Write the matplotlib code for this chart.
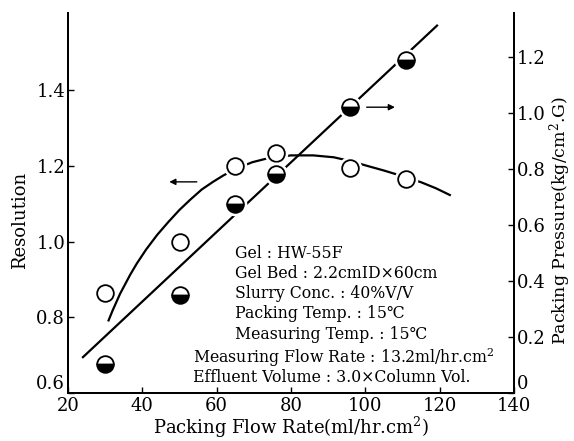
import matplotlib
matplotlib.use('Agg')
import matplotlib.pyplot as plt

plt.rcParams['font.family'] = ['DejaVu Serif']
plt.rcParams['mathtext.fontset'] = 'dejavuserif'

# resolution (open circles, left axis)
res_flow = [30, 50, 65, 76, 96, 111]
res_vals = [0.865, 1.00, 1.20, 1.235, 1.195, 1.165]

# resolution trend curve
res_curve_x = [30.8, 32, 34, 36.7, 38.5, 41, 44, 47, 50, 52.9, 56, 59, 61.8, 65, 69.6, 74, 80,
               86, 91.5, 96, 100.6, 105, 110, 115, 119, 123]
res_curve_y = [0.789, 0.818, 0.862, 0.912, 0.942, 0.979, 1.018, 1.052, 1.084, 1.111, 1.138, 1.158,
               1.175, 1.192, 1.21, 1.221, 1.228, 1.228, 1.223, 1.213, 1.20, 1.188, 1.173, 1.157,
               1.141, 1.122]

# packing pressure (half filled circles, right axis)
pres_flow = [30, 50, 65, 76, 96, 111]
pres_vals = [0.105, 0.35, 0.675, 0.78, 1.02, 1.19]

# pressure straight line, ends as drawn
pres_line_x = [23.8, 119.5]
pres_line_y = [0.125, 1.314]

conditions = [
    ('Gel : HW-55F', 0),
    ('Gel Bed : 2.2cmID\u00d760cm', 0),
    ('Slurry Conc. : 40%V/V', 0),
    ('Packing Temp. : 15\u2103', 0),
    ('Measuring Temp. : 15\u2103', 0),
    ('Measuring Flow Rate : 13.2ml/hr.cm$^2$', 1),
    ('Effluent Volume : 3.0\u00d7Column Vol.', 1),
]

fig = plt.figure(figsize=(5.74, 4.41), dpi=100)
ax = fig.add_axes([0.1185, 0.109, 0.777, 0.862])
ax2 = ax.twinx()

lw = 1.6
ax.plot(res_curve_x, res_curve_y, 'k-', lw=lw, zorder=2, solid_capstyle='butt')
ax2.plot(pres_line_x, pres_line_y, 'k-', lw=lw, zorder=2, solid_capstyle='butt')

# white halo so lines break around markers
ax.plot(res_flow, res_vals, 'o', ms=12, mfc='white', mec='white', mew=5, zorder=3)
ax.plot(res_flow, res_vals, 'o', ms=12, mfc='white', mec='k', mew=1.3, zorder=4)
ax2.plot(pres_flow, pres_vals, 'o', ms=12, mfc='white', mec='white', mew=5, zorder=3)
ax2.plot(pres_flow, pres_vals, 'o', ms=12, fillstyle='bottom', mfc='k',
         markerfacecoloralt='white', mec='k', mew=1.3, zorder=4)

ax.set_xlim(20, 140)
ax.set_ylim(0.6, 1.605)
ax2.set_ylim(0, 1.357)

ax.set_xticks([20, 40, 60, 80, 100, 120, 140])
ax.set_yticks([0.6, 0.8, 1.0, 1.2, 1.4])
ax.set_yticklabels(['0.6', '0.8', '1.0', '1.2', '1.4'])
ax2.set_yticks([0, 0.2, 0.4, 0.6, 0.8, 1.0, 1.2])
ax2.set_yticklabels(['0', '0.2', '0.4', '0.6', '0.8', '1.0', '1.2'])

for a in (ax, ax2):
    a.spines['top'].set_visible(False)
    for s in a.spines.values():
        s.set_linewidth(1.4)
ax.tick_params(axis='y', direction='in', length=4, width=1, labelsize=13, pad=2)
ax.tick_params(axis='x', direction='in', length=4, width=1, labelsize=13, pad=3)
ax2.tick_params(direction='in', length=4, width=1, labelsize=13, pad=2)

# lowest labels sit above the bottom axis, as in the original
ax.get_yticklabels()[0].set_verticalalignment('bottom')
ax2.get_yticklabels()[0].set_verticalalignment('bottom')

ax.set_xlabel('Packing Flow Rate(ml/hr.cm$^2$)', fontsize=13, labelpad=0)
ax.set_ylabel('Resolution', fontsize=13)
ax.yaxis.set_label_coords(-0.088, 0.455)
ax2.set_ylabel('Packing Pressure(kg/cm$^2$.G)', fontsize=12.5)
ax2.yaxis.set_label_coords(1.075, 0.455)

# direction arrows
arrow = dict(arrowstyle='-|>', color='k', lw=1.0, mutation_scale=9)
ax.annotate('', xy=(46.5, 1.158), xytext=(55.4, 1.158), arrowprops=arrow)
ax2.annotate('', xy=(108.7, 1.02), xytext=(99.6, 1.02), arrowprops=arrow)

# conditions block
y0 = 253
for i, (txt, indent) in enumerate(conditions):
    ypix = y0 + i * 20.3 + (3 if indent else 0)
    xpix = 193 if indent else 235
    fig.text(xpix / 574, 1 - ypix / 441, txt, fontsize=11.3, va='center', ha='left')

fig.savefig('out.png', dpi=100)
